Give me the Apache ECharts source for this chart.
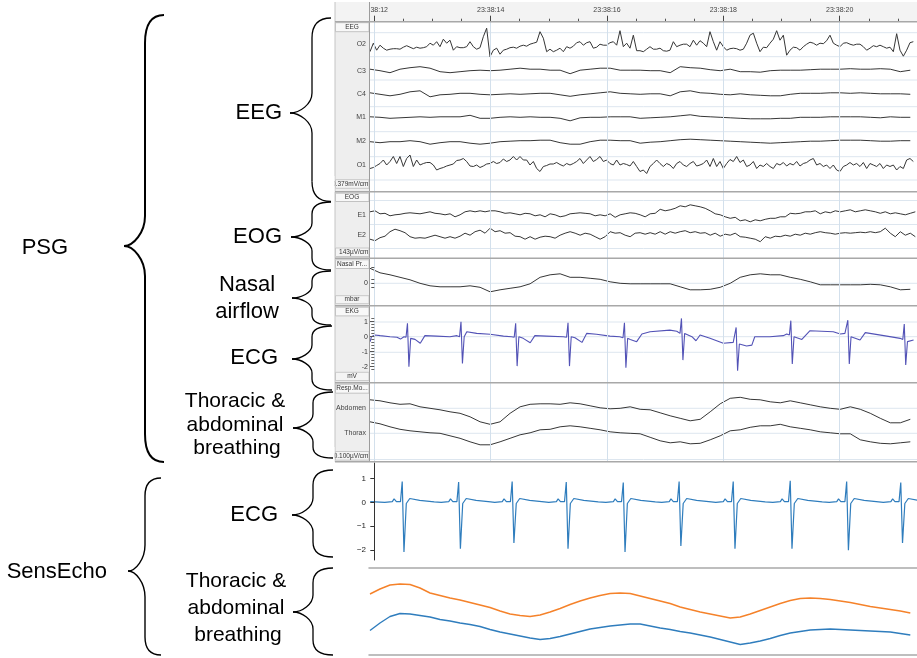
<!DOCTYPE html>
<html>
<head>
<meta charset="utf-8">
<title>PSG vs SensEcho</title>
<script src="https://cdn.jsdelivr.net/npm/echarts@6/dist/echarts.min.js"></script>
<style>
  html, body { margin: 0; padding: 0; background: #fff; }
  #main { width: 917px; height: 658px; }
</style>
</head>
<body>
<div id="main"></div>
<script>
// time axis: seconds after 23:38:12
var T_LEFT = -0.074, T_RIGHT = 9.329;
// sample intervals of the exported traces (s)
var FAST_DT = 0.0573, EOG_DT = 0.086, SLOW_DT = 0.172;

var timeTicks = [0, 2, 4, 6, 8];
var minorTimeTicks = [0.5, 1, 1.5, 2.5, 3, 3.5, 4.5, 5, 5.5, 6.5, 7, 7.5, 8.5, 9];
var ekgLabels = [1, 0, -1, -2];
var ekgMinorTicks = [1.2, 0.8, 0.6, 0.4, 0.2, -0.2, -0.4, -0.6, -0.8, -1.2, -1.4, -1.6, -1.8, -2.2];
var nasalTicks = [16, 4, 0, -4];
var echoEcgTicks = [1, 0, -1, -2];

// EEG (offset from channel baseline)
var eegO2 = [
  -5, 3.5, -3.5, 1.5, -1.5, -3.5, -2.5, -2, -2, -2.5,
  -0.5, 1, -0.5, -2, -0.5, -1.5, -1, 0, 3.5, 1.5,
  5, 0, 7.5, 3.5, 6.5, -3.5, 0, -1, -1, 0,
  5, 0, -2.5, -1, 10, 18.5, -10, -3.5, -1.5, -7.5,
  -3.5, -2.5, -1, -0.5, -1.5, 0.5, 1.5, 0.5, 2.5, 3.5,
  4.5, 15, 8.5, -5, -2.5, -5, -3.5, -1.5, -5, 0,
  -1.5, 0.5, 4, 5, 1.5, 4, 5, -1.5, -0.5, 2.5,
  1.5, 1.5, 4, 5, 1.5, 16, 0, 3.5, -1.5,
  11.5, -4, -4, -5, -2.5, 0, -2.5, -2.5, -1.5, -4,
  -4.5, -3.5, 5, 0, 1.5, 2.5, 2.5, 0, 6.5, 1.5,
  6, 3.5, 0, 15, 5, -3.5, 5, 0, -3.5, -2,
  -1.5, -2, -3.5, -2.5, 3.5, 11.5, 13.5, 3.5, -5, -0.5,
  -1, 3.5, 7.5, 16, 6.5, 11.5, -8.5, -3.5, -0.5, -1,
  -3.5, 0, 2.5, 4.5, 3.5, 1.5, 3.5, 3, 6, 11.5,
  3.5, 1.5, 0, 3.5, 4, 2.5, 1.5, 2.5, 2.5, 0,
  -3.5, -1.5, 1, 0, 1.5, 0, -1.5, -0.5, -5, 13,
  -3.5, -9.5, -3.5, 4, 5
];
var eegC3 = [
  1.5, 0, -2, 1.5, 3, 4, 2.5, -1, -2, -1, 0, 0.5, 0, 0.5, 1.5, 2.5, 1.5, 1.5, 0.5, 0.5, -3, 0.5, 1.5, 2.5, 2.5, 0.5, 0.5,
  0.5, 0, 0, -2, 4, 3, 2.5, 1, 0, 1.5, -1, -1, -1.5, 0, 0.5, 0.5, 0.5, 1, 1.5, 1.5, 1.5, 2, 1.5, 1.5, 2, 1.5, -1, 0.5
];
var eegC4 = [
  1.5, 0, -1.5, 0, 2.5, 3.5, -2.5, -0.5, 0, 1, 1, 0, -0.5, 0, 0.5, 0, 0.5, 1, 1, -0.5, -2, -0.5, 0.5, 1.5, 2.5, 1, 0.5,
  0, 0.5, 0.5, -1.5, 2.5, 3.5, 1.5, 1, 0, -0.5, 0.5, -0.5, -1, -1.5, -1.5, 0, 1, 1, 1, 1.5, 1.5, 1, 1.5, 1, 0.5, 0.5, 0.5, 0
];
var eegM1 = [
  0.5, 0, -1, -0.5, 0, 0.5, 0, 0.5, 0.5, 0.5, 2, -1, -1, 0, 0.5, 0, 0.5, 0, 0, -1, -3.5, -0.5, 0, 0, 0.5, 0.5, 0.5,
  -1, -0.5, 0, 0.5, 1.5, 2.5, 1, 0.5, 0, -0.5, -1, -1.5, -1.5, -1.5, -1, -1, 0, 0, 0, 0.5, 0.5, 0.5, 0.5, 0, -0.5, 0.5, 0, 0
];
var eegM2 = [
  0, -1, 0, 0, 1, 0, -2.5, -1, 0, 0, -1.5, -2.5, -1.5, 0, 0.5, 1, 1, 1.5, 1.5, -1, -2.5, -2.5, 0, 1.5, 1.5, 1, 1,
  -1.5, -0.5, 0, 1, 2, 2.5, 2, 1.5, 1, 0.5, 0, -0.5, -1, -1.5, -1, -0.5, 0, 0.5, 0.5, 1, 1.5, 1.5, 1.5, 1, 0.5, 0.5, 1, 1
];
var eegO1 = [
  -3.5, -2.5, -0.5, 1.5, 5, 0, 3.5, 8.5, 1.5, 8.5,
  -1.5, 6.5, 10, -1.5, 5, 0, 1.5, 2.5, 2.5, 0,
  -5, -3.5, -2.5, -1, 0, 1, 4.5, 5, 6.5, 3.5,
  -1, -1.5, 0, -2.5, -1, 1, 1.5, 3.5, 1.5, 2.5,
  6, 3.5, 5, 8.5, 5, 8.5, 5, 5, 0, 3.5,
  -3.5, -6.5, -1.5, -0.5, 1, 1, 2.5, 0.5, -1, 1.5,
  0, 1.5, 3.5, 6.5, 1.5, 5, 8.5, 3.5, 5.5, 8.5,
  3.5, 5, 1.5, 0, 5, 0, 1.5, 0.5, -1,
  3.5, -1.5, -6.5, -5, -8.5, -1.5, 1.5, 5, 1.5, -1.5,
  1.5, 0, -3.5, 1.5, 3.5, 0, -1.5, 1.5, 3.5, -1,
  0, 1.5, 5, -1.5, 6.5, -1.5, 3.5, -3.5, 1.5, 5.5,
  3.5, 8.5, 2.5, 5, -1.5, 0, 3.5, -3.5, 0, -1.5,
  1.5, -1.5, -3.5, 1.5, 0, 2.5, -1, 1.5, 0, 3.5,
  -1, 1.5, 2.5, 5, 6.5, 0, 1.5, -1.5, 0, -3.5,
  0, -5, -6.5, -1.5, 0, 2.5, 0, 1.5, -1.5, 2.5,
  -3.5, 1.5, 0, -1.5, 1.5, -3.5, 0, -1.5, 0, -5,
  -1.5, -3.5, 5, 6.5, 3.5
];

// EOG
var eogE1 = [
  1.5, 2.5, -0.5, 0, -2.5, -1.5, -1, 0, 0.5, 0,
  -0.5, 0.5, 1.5, 0, -0.5, -1.5, -0.5, -3.5, -1.5, 1.5,
  2.5, 1.5, 2.5, 1.5, 2.5, 2.5, 1.5, 0, 0.5, -0.5,
  -1.5, 0, -0.5, -2.5, -1.5, -3.5, -0.5, -1.5, -3.5, -2.5,
  -0.5, 0, 0.5, 0, -0.5, -2.5, -1.5, -2.5, -0.5, -4,
  -1.5, -0.5, 0.5,
  0, -1.5, -3.5, -0.5, 0, 4, 2.5, 3.5, 5, 7.5,
  6.5, 8.5, 7.5, 6.5, 5, 2.5, -0.5, -1.5, -3.5, -5,
  -4, -7.5, -6.5, -8.5, -6.5, -7.5, -6, -5, -5, -3.5,
  -3.5, 0, -0.5, 0, 1.5, 1.5, 2.5, -0.5, 1.5, 0.5,
  2.5, 1.5, 2.5, 3.5, 1.5, 2.5, 3.5, 2.5, 1.5, 0,
  1.5, -0.5, 0.5, -0.5, -1.5, 0, 1.5
];
var eogE2 = [
  -2.5, -4, -1, 0.5, 5, 7.5, 6, 4, 0, -1.5,
  -1, -1.5, 0, 1.5, 0, -1.5, 0, -1.5, 0.5, 3.5,
  1.5, 5, 6.5, 3.5, 8.5, 5, 6, 3.5, 4, 0.5,
  0, -2.5, 0, -2.5, -0.5, 0.5, 0, -1.5, 1.5, 3.5,
  5, 3.5, 1.5, 3.5, 2.5, 0, -2.5, 0, 5, 3.5,
  4, 1.5, 0,
  3.5, 4, 2.5, 4, 2.5, 5, 2.5, 5, 3.5, 5,
  6, 4, 5, 3.5, 4, 1.5, 3.5, 0.5, 2.5, 1.5,
  3.5, 0, -0.5, -1.5, -2.5, -5, 0, -1.5, 0.5, 0,
  1.5, 0.5, 2.5, 1.5, 3.5, 2.5, 4, 5, 4, 3.5,
  2.5, 3.5, 4, 3.5, 4, 4.5, 4, 5, 4, 5,
  8.5, 3.5, 0, 5, 1.5, 3.5, 0
];

// nasal pressure
var nasalFlow = [
  15, 10.5, 8.5, 6, 3.5, 0, -2.5, -3.5, -3.5, -3.5, -2.5, -4, -8.5, -6.5, -5, -3.5, -0.5, 6, 8.5, 9.5, 6, 6, 5, 4, 1.5, 0, -0.5,
  -0.5, -0.5, -0.5, -0.5, -3.5, -6.5, -6.5, -6, -4, 0, 6, 8.5, 9.5, 8.5, 8.5, 6, 4, 1.5, -1.5, -1.5, -1.5, -1.5, -1.5, -1, -1.5, -3.5, -6.5, -6
];

// PSG EKG [s, mV]
var psgEkg = [
  [-0.07, -0.33], [-0.05, 0], [0.01, 0.11], [0.10, 0.07], [0.27, 0], [0.39, -0.04], [0.45, -0.16], [0.51, 0],
  [0.545, -0.04], [0.57, 0.89], [0.595, -2.0], [0.625, -0.11], [0.70, -0.18], [0.79, -0.44], [0.87, 0.07], [1.07, 0.04], [1.30, 0],
  [1.42, 0.07], [1.465, 0], [1.49, 1.0], [1.515, -1.78], [1.545, 0], [1.59, 0.33], [1.76, 0.22], [1.99, 0.16], [2.22, 0.04],
  [2.36, 0], [2.405, -0.04], [2.43, 0.89], [2.455, -1.96], [2.485, 0], [2.56, -0.11], [2.68, -0.4], [2.76, 0.07], [2.96, 0.04],
  [3.25, 0], [3.305, -0.04], [3.33, 0.93], [3.355, -1.96], [3.385, 0], [3.45, -0.07], [3.57, -0.38], [3.65, 0.22], [3.82, 0.16], [4.05, 0.04],
  [4.22, 0], [4.275, -0.07], [4.30, 0.93], [4.325, -2.07], [4.355, -0.11], [4.40, -0.18], [4.51, -0.33], [4.60, 0.18], [4.74, 0.33], [5.08, 0.44],
  [5.20, 0.36], [5.255, 0.22], [5.28, 1.22], [5.305, -1.56], [5.335, 0.22], [5.46, 0], [5.53, -0.27], [5.60, 0.11], [5.77, -0.11], [6.00, -0.44],
  [6.17, -0.38], [6.195, -0.44], [6.22, 0.62], [6.245, -2.27], [6.275, -0.49], [6.40, -0.62], [6.49, -0.56], [6.54, 0], [6.80, 0], [7.03, 0.07],
  [7.09, 0.18], [7.135, 0.11], [7.16, 1.07], [7.185, -1.82], [7.215, 0], [7.35, -0.18], [7.49, 0.4], [7.89, 0.33], [8.01, 0.18],
  [8.09, 0.22], [8.115, 0.11], [8.14, 1.1], [8.165, -1.82], [8.195, 0], [8.35, -0.22], [8.44, 0.27], [8.81, 0.04],
  [9.04, -0.11], [9.085, -0.18], [9.11, 0.84], [9.135, -1.89], [9.165, -0.33], [9.27, -0.22]
];

// respiration belts
var respAbdomen = [
  8.5, 7.5, 5.5, 4, 4.5, 1.5, 0, -1.5, -3.5, -5, -8.5, -13.5, -16, -13.5, -5, 1.5, 4, 4.5, 4.5, 4, 5.5, 4.5, 2.5, 0.5, -0.5, 0, 1.5,
  -1, -1.5, -4.5, -7.5, -10, -12.5, -11, -3.5, 4.5, 10, 11, 9, 8.5, 6.5, 5.5, 7.5, 5.5, 3.5, 1.5, 0, -1, 1.5, -1, -5, -10, -14.5, -14.5, -11
];
var respThorax = [
  11.5, 9.5, 6.5, 4, 2.5, 1.5, 0.5, 0, -2.5, -5, -8.5, -11.5, -11.5, -8.5, -5, -1.5, 0.5, 3.5, 4, 6.5, 7.5, 6.5, 5, 3.5, 1.5, 0.5, 0,
  -0.5, -4, -7.5, -9.5, -8.5, -10.5, -10, -6.5, -2.5, 2.5, 3.5, 6, 7.5, 7.5, 9, 6.5, 5, 3.5, 1.5, 0.5, -0.5, -0.5, -6.5, -8.5, -10, -10.5, -9.5, -8.5
];

// SensEcho ECG [s, value]
var echoEcg = [
  [-0.07, 0.03],
  [0.18, 0.0], [0.31, 0.03], [0.34, 0.14], [0.38, 0.03], [0.45, 0.03], [0.48, 0.87], [0.51, -2.08], [0.55, -0.05], [0.61, 0.16], [0.78, 0.08], [1.03, 0.02],
  [1.15, 0.0], [1.28, 0.03], [1.31, 0.14], [1.35, 0.03], [1.42, 0.03], [1.45, 0.85], [1.48, -1.94], [1.52, -0.05], [1.58, 0.16], [1.75, 0.08], [2.00, 0.02],
  [2.07, 0.0], [2.20, 0.03], [2.23, 0.14], [2.27, 0.03], [2.34, 0.03], [2.37, 0.87], [2.40, -1.70], [2.44, -0.05], [2.50, 0.16], [2.67, 0.08], [2.92, 0.02],
  [3.00, 0.0], [3.13, 0.03], [3.16, 0.14], [3.20, 0.03], [3.27, 0.03], [3.30, 0.85], [3.33, -1.94], [3.37, -0.05], [3.43, 0.16], [3.60, 0.08], [3.85, 0.02],
  [3.98, 0.0], [4.11, 0.03], [4.14, 0.14], [4.18, 0.03], [4.25, 0.03], [4.28, 0.83], [4.31, -2.08], [4.35, -0.05], [4.41, 0.16], [4.58, 0.08], [4.83, 0.02],
  [4.94, 0.0], [5.07, 0.03], [5.10, 0.14], [5.14, 0.03], [5.21, 0.03], [5.24, 0.87], [5.27, -1.83], [5.31, -0.05], [5.37, 0.16], [5.54, 0.08], [5.79, 0.02],
  [5.87, 0.0], [6.00, 0.03], [6.03, 0.14], [6.07, 0.03], [6.14, 0.03], [6.17, 0.87], [6.20, -1.94], [6.24, -0.05], [6.30, 0.16], [6.47, 0.08], [6.72, 0.02],
  [6.85, 0.0], [6.98, 0.03], [7.01, 0.14], [7.05, 0.03], [7.12, 0.03], [7.15, 0.90], [7.18, -1.94], [7.22, -0.05], [7.28, 0.16], [7.45, 0.08], [7.70, 0.02],
  [7.82, 0.0], [7.95, 0.03], [7.98, 0.14], [8.02, 0.03], [8.09, 0.03], [8.12, 0.87], [8.15, -2.01], [8.19, -0.05], [8.25, 0.16], [8.42, 0.08], [8.67, 0.02],
  [8.75, 0.0], [8.88, 0.03], [8.91, 0.14], [8.95, 0.03], [9.02, 0.03], [9.05, 0.83], [9.08, -1.70], [9.12, -0.05], [9.18, 0.16], [9.35, 0.08]
];

// SensEcho breathing
var echoThorax = [
  61, 66, 70, 71, 70.5, 67, 62, 59.5, 57, 55, 52.5, 50, 47.5, 44, 41, 39.5, 38.5, 40, 43, 46.5,
  50.5, 54, 57, 59.5, 61.5, 62, 61.5, 59, 56.5, 54, 51.5, 48, 45.5, 43, 41, 39, 37, 38, 41, 44.5,
  48, 51.5, 54.5, 56.5, 57, 56.5, 55.5, 54, 52.5, 50.5, 48.5, 47, 45.5, 44, 42
];
var echoAbdomen = [
  24.5, 32, 38.5, 41.5, 41, 39.5, 38, 35.5, 34, 32, 30.5, 28.5, 25.5, 23, 21, 19, 17, 15.5, 16.5, 18.5,
  21, 23.5, 26, 27.5, 29, 30, 31, 31, 29, 27, 25.5, 23.5, 22, 20, 18, 15.5, 13, 10.5, 12, 14,
  16.5, 19.5, 22, 23.5, 25, 25.5, 26, 25.5, 25, 24.5, 24, 23.5, 23, 21.5, 20
];

var chart = echarts.init(document.getElementById('main'));

var grids = [], xAxes = [], yAxes = [], series = [], graphics = [];
var FONT = '"Liberation Sans", Arial, sans-serif';

function addGrid(grid, xOpt, yOpt) {
  var gi = grids.length;
  grids.push(grid);
  xAxes.push(Object.assign({type: 'value', gridIndex: gi, min: T_LEFT, max: T_RIGHT, show: false}, xOpt || {}));
  yAxes.push(Object.assign({type: 'value', gridIndex: gi, show: false}, yOpt || {}));
  return {grid: gi, x: xAxes.length - 1, y: yAxes.length - 1};
}

function addLine(ax, data, color, width) {
  series.push({
    type: 'line', xAxisIndex: ax.x, yAxisIndex: ax.y, data: data,
    symbol: 'none', clip: false, silent: true, z: 3,
    lineStyle: {color: color, width: width}
  });
}

function sampled(values, dt) {
  return values.map(function (v, i) { return [T_LEFT + i * dt, v]; });
}

// channel whose values are screen-scaled offsets around a baseline
function addChannel(base, values, dt, color) {
  var ax = addGrid({left: 370, right: 0, top: base - 20, height: 40}, null, {min: -20, max: 20});
  addLine(ax, sampled(values, dt), color || '#363636', 1);
}

var noLine = {show: false, onZero: false};

// header time ruler
addGrid({left: 370, right: 0, top: 2, height: 19.7, show: true, backgroundColor: '#f3f3f3', borderWidth: 0}, {
  show: true, position: 'bottom', axisLine: noLine, splitLine: {show: false},
  axisTick: {inside: true, length: 6, customValues: timeTicks, lineStyle: {color: '#444'}},
  axisLabel: {inside: true, customValues: timeTicks, fontSize: 7, color: '#444', margin: 8, fontFamily: FONT,
    formatter: function (v) { var s = 12 + Math.round(v); return '23:38:' + (s < 10 ? '0' + s : s); }}
}, {min: 0, max: 1});
addGrid({left: 370, right: 0, top: 2, height: 19.7}, {
  show: true, position: 'bottom', axisLine: noLine, splitLine: {show: false}, axisLabel: {show: false},
  axisTick: {inside: true, length: 3, customValues: minorTimeTicks, lineStyle: {color: '#555'}}
}, {min: 0, max: 1});

// vertical time grid lines through the PSG panel
var vg = addGrid({left: 370, right: 0, top: 21.7, height: 440}, null, {min: 0, max: 1});
series.push({
  type: 'line', xAxisIndex: vg.x, yAxisIndex: vg.y, data: [], z: 1, silent: true,
  markLine: {silent: true, symbol: ['none', 'none'], label: {show: false}, animation: false,
    lineStyle: {color: '#d3e0ec', width: 1, type: 'solid'},
    data: timeTicks.map(function (t) { return {xAxis: t}; })}
});

// EEG / EOG
addChannel(46.7, eegO2, FAST_DT);
addChannel(70.7, eegC3, SLOW_DT);
addChannel(94.3, eegC4, SLOW_DT);
addChannel(117.3, eegM1, SLOW_DT);
addChannel(141.7, eegM2, SLOW_DT);
addChannel(165, eegO1, FAST_DT);
addChannel(213.3, eogE1, EOG_DT);
addChannel(236.7, eogE2, EOG_DT);

// nasal pressure with its small axis
var nasalAx = addGrid({left: 370, right: 0, top: 263.3, height: 40}, null, {
  show: true, min: -20, max: 20, z: 10, axisLine: {show: false}, splitLine: {show: false},
  axisTick: {customValues: nasalTicks, length: 3, lineStyle: {color: '#555'}},
  axisLabel: {customValues: [0], fontSize: 7, color: '#333', margin: 2, fontFamily: FONT}
});
addLine(nasalAx, sampled(nasalFlow, SLOW_DT), '#363636', 1);

// PSG EKG in mV
var ekgAx = addGrid({left: 370, right: 0, top: 306.7, height: 75}, null, {
  show: true, min: -3, max: 2, z: 10, axisLine: {show: false}, splitLine: {show: false},
  axisTick: {customValues: ekgLabels, length: 5, lineStyle: {color: '#555'}},
  axisLabel: {customValues: ekgLabels, fontSize: 7, color: '#333', margin: 2, fontFamily: FONT}
});
addGrid({left: 370, right: 0, top: 306.7, height: 75}, null, {
  show: true, min: -3, max: 2, z: 10, axisLine: {show: false}, splitLine: {show: false}, axisLabel: {show: false},
  axisTick: {customValues: ekgMinorTicks, length: 3, lineStyle: {color: '#666'}}
});
addLine(ekgAx, psgEkg, '#5252b6', 1.1);

// respiration belts
addChannel(408.3, respAbdomen, SLOW_DT);
addChannel(433.3, respThorax, SLOW_DT);

// SensEcho ECG
var echoAx = addGrid({left: 369, right: 0, top: 463, height: 97}, {min: -0.091}, {
  show: true, min: -2.414, max: 1.644, z: 10,
  axisLine: {show: true, lineStyle: {color: '#333', width: 1}}, splitLine: {show: false},
  axisTick: {customValues: echoEcgTicks, length: 4, lineStyle: {color: '#333'}},
  axisLabel: {customValues: echoEcgTicks, fontSize: 8, color: '#222', margin: 3, fontFamily: FONT,
    formatter: function (v) { return String(v).replace('-', '\u2212'); }}
});
addLine(echoAx, echoEcg, '#2f7dbd', 1.2);

// SensEcho breathing
var spine = {show: true, onZero: false, lineStyle: {color: '#a9a9a9', width: 1.5}};
var breathAx = addGrid({left: 369, right: 0, top: 568, height: 87}, {
  show: true, min: -0.091, position: 'bottom', axisLine: spine, axisTick: {show: false}, axisLabel: {show: false}, splitLine: {show: false}
}, {min: 0, max: 87});
xAxes.push({type: 'value', gridIndex: breathAx.grid, position: 'top', min: -0.091, max: T_RIGHT,
  axisLine: spine, axisTick: {show: false}, axisLabel: {show: false}, splitLine: {show: false}});
addLine(breathAx, sampled(echoThorax, SLOW_DT), '#f5822a', 1.4);
addLine(breathAx, sampled(echoAbdomen, SLOW_DT), '#2f7dbd', 1.4);

// ---- PSG panel chrome ----
function rect(x, y, w, h, fill, stroke, z) {
  graphics.push({type: 'rect', silent: true, z: z, shape: {x: x, y: y, width: w, height: h},
    style: {fill: fill, stroke: stroke || null, lineWidth: 1}});
}
function line(x1, y1, x2, y2, color, width, z) {
  graphics.push({type: 'line', silent: true, z: z, shape: {x1: x1, y1: y1, x2: x2, y2: y2},
    style: {stroke: color, lineWidth: width}});
}
function curve(x1, y1, c1x, c1y, c2x, c2y, x2, y2, width, z) {
  graphics.push({type: 'bezierCurve', silent: true, z: z,
    shape: {x1: x1, y1: y1, cpx1: c1x, cpy1: c1y, cpx2: c2x, cpy2: c2y, x2: x2, y2: y2},
    style: {stroke: '#000', fill: null, lineWidth: width}});
}
function text(x, y, s, size, align, z, color) {
  graphics.push({type: 'text', silent: true, z: z, x: x, y: y,
    style: {text: s, font: size + 'px ' + FONT, fill: color || '#000',
      textAlign: align, align: align, textVerticalAlign: 'middle', verticalAlign: 'middle'}});
}

rect(335, 2, 34.5, 460, '#eeeeee', null, 1);
rect(335, 2, 34.5, 19.7, '#f3f3f3', null, 20);
line(335, 2, 335, 462, '#c4c4c4', 1, 21);
line(369.5, 2, 369.5, 462, '#9c9c9c', 1, 21);

[32.7, 56.7, 80, 106.7, 131.7, 156.7, 180, 200.5, 224.5, 248.5, 283.3, 322, 336.7, 352.3, 408.3, 433.3, 459.5].forEach(function (y) {
  line(370, y, 917, y, '#dde6ef', 1, 1);
});
[21.7, 191.7, 258.3, 305.7, 382.7, 461.7].forEach(function (y) {
  line(335, y, 917, y, '#a8a8a8', 1.5, 22);
});

var headBoxes = [['EEG', 22.7, 9], ['EOG', 193.2, 8.3], ['Nasal Pr...', 259.8, 8.7], ['EKG', 307.2, 8.7], ['Resp.Mo...', 384.2, 9]];
headBoxes.forEach(function (b) {
  rect(335.5, b[1], 33.5, b[2], '#f8f8f8', '#c2c2c2', 5);
  text(352, b[1] + b[2] / 2, b[0], 6.5, 'center', 6, '#333');
});
var scaleBoxes = [['0.379mV/cm', 179.7, 8.6], ['143\u00b5V/cm', 248, 8.5], ['mbar', 295.7, 8], ['mV', 372.3, 8.3], ['0.100\u00b5V/cm', 451.5, 8.6]];
scaleBoxes.forEach(function (b) {
  rect(335.5, b[1], 33.5, b[2], '#f4f4f4', '#c8c8c8', 5);
  text(b[0].length > 5 ? 368.5 : 352, b[1] + b[2] / 2, b[0], 6.5, b[0].length > 5 ? 'right' : 'center', 6, '#333');
});
rect(318, 176, 16.5, 16, '#ffffff', null, 30);
rect(318, 447, 16.5, 16, '#ffffff', null, 30);

var chanLabels = [['O2', 44], ['C3', 70.7], ['C4', 94], ['M1', 117.3], ['M2', 141], ['O1', 165],
  ['E1', 215], ['E2', 235], ['Abdomen', 408.3], ['Thorax', 433.3]];
chanLabels.forEach(function (c) { text(366, c[1], c[0], 7, 'right', 6, '#444'); });

// ---- braces and group labels ----
// [xEnd, yTop, yBot, xBar, xTip, yTip, rEnd, rTip, lineWidth]
var braces = [
  [164, 15, 462, 145, 124, 246, 28, 30, 2],
  [161, 478, 655, 145, 128, 571, 18, 26, 1.4],
  [331, 18, 201.5, 312, 290, 113, 20, 20, 1.3],
  [331, 202, 270, 312, 291, 237, 12, 14, 1.3],
  [331, 271, 325, 312, 292, 298, 10, 12, 1.3],
  [332, 326, 390, 312, 292, 359, 11, 14, 1.3],
  [333, 392, 458, 313, 293, 428, 11, 14, 1.3],
  [333, 470, 557, 313, 292, 515, 15, 17, 1.3],
  [333, 568, 655, 313, 293, 612, 15, 17, 1.3]
];
braces.forEach(function (b) {
  var xe = b[0], y0 = b[1], y1 = b[2], xb = b[3], xt = b[4], yt = b[5], re = b[6], rt = b[7], w = b[8];
  var xc = xb + (xe - xb) * 0.3, xtc = xt + (xb - xt) * 0.45;
  curve(xe, y0, xc, y0, xb, y0 + re * 0.4, xb, y0 + re, w, 40);
  line(xb, y0 + re, xb, yt - rt, '#000', w, 40);
  curve(xb, yt - rt, xb, yt - rt * 0.45, xtc, yt, xt, yt, w, 40);
  curve(xt, yt, xtc, yt, xb, yt + rt * 0.45, xb, yt + rt, w, 40);
  line(xb, yt + rt, xb, y1 - re, '#000', w, 40);
  curve(xb, y1 - re, xb, y1 - re * 0.4, xc, y1, xe, y1, w, 40);
});

text(21.7, 248, 'PSG', 22, 'left', 40);
text(6.7, 572, 'SensEcho', 22, 'left', 40);
text(282, 113.3, 'EEG', 22, 'right', 40);
text(282, 236.7, 'EOG', 22, 'right', 40);
text(247, 285, 'Nasal', 22, 'center', 40);
text(247, 311.7, 'airflow', 22, 'center', 40);
text(278, 358.3, 'ECG', 22, 'right', 40);
text(235, 401.7, 'Thoracic &', 21, 'center', 40);
text(235, 425, 'abdominal', 21, 'center', 40);
text(237, 448.3, 'breathing', 21, 'center', 40);
text(278, 515, 'ECG', 22, 'right', 40);
text(236, 581.7, 'Thoracic &', 21, 'center', 40);
text(236, 608.3, 'abdominal', 21, 'center', 40);
text(238, 635, 'breathing', 21, 'center', 40);

chart.setOption({
  animation: false,
  backgroundColor: '#ffffff',
  grid: grids,
  xAxis: xAxes,
  yAxis: yAxes,
  series: series,
  graphic: {elements: graphics}
});
</script>
</body>
</html>
